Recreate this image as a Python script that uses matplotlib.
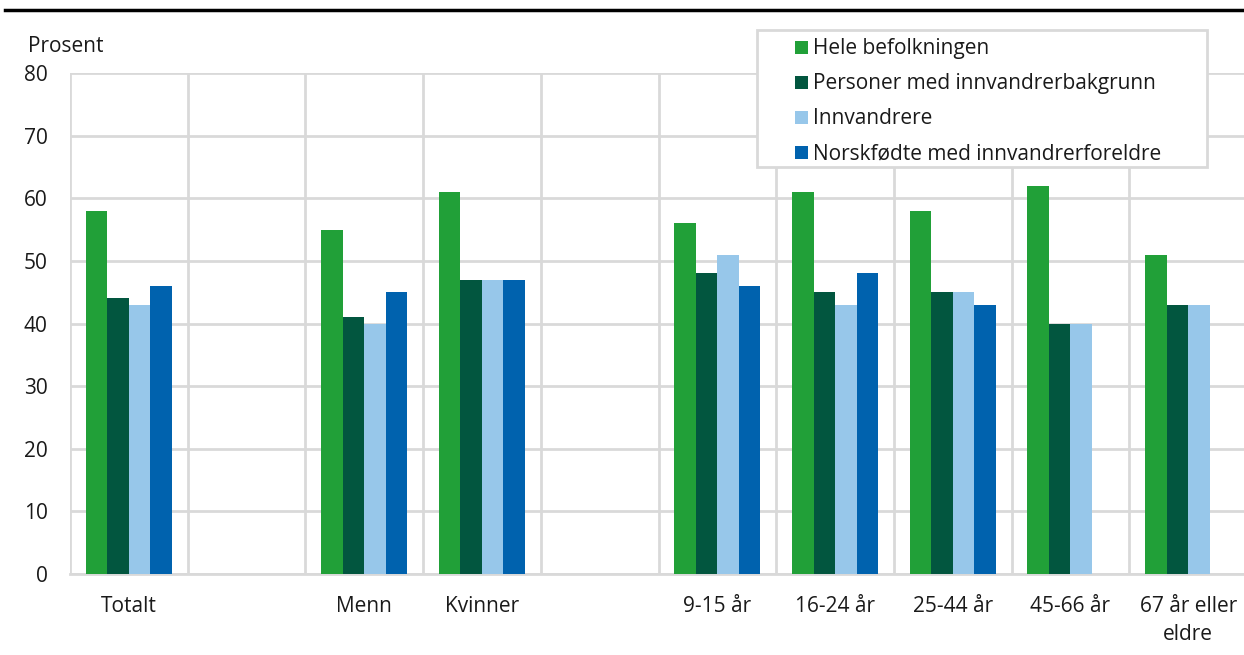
import matplotlib.pyplot as plt
import matplotlib.patches as mpatches
import numpy as np

plt.rcParams['font.family'] = ['Open Sans', 'DejaVu Sans']

categories = ['Totalt', '', 'Menn', 'Kvinner', '', '9-15 år', '16-24 år',
              '25-44 år', '45-66 år', '67 år eller\neldre']
series = ['Hele befolkningen', 'Personer med innvandrerbakgrunn',
          'Innvandrere', 'Norskfødte med innvandrerforeldre']
hele = [58, np.nan, 55, 61, np.nan, 56, 61, 58, 62, 51]
bakgrunn = [44, np.nan, 41, 47, np.nan, 48, 45, 45, 40, 43]
innvandrere = [43, np.nan, 40, 47, np.nan, 51, 43, 45, 40, 43]
norskfodte = [46, np.nan, 45, 47, np.nan, 46, 48, 43, np.nan, np.nan]
colors = ['#21a038', '#02563f', '#97c7ea', '#0062ae']

W, H = 1244, 655
fs = 15
fig = plt.figure(figsize=(W / 100, H / 100), dpi=100)
ax = fig.add_axes([70 / W, 1 - 574 / H, 1177 / W, 501 / H])

x = np.arange(len(categories))
w = 0.183
for i, (vals, col) in enumerate(zip([hele, bakgrunn, innvandrere, norskfodte], colors)):
    ax.bar(x + (i - 1.5) * w, vals, width=w, color=col, zorder=3)

ax.set_xlim(-0.5, len(categories) - 0.5)
ax.set_ylim(0, 80)
ax.set_yticks(range(0, 81, 10))
ax.set_xticks(x)
ax.set_xticklabels(categories, fontsize=fs, linespacing=1.45)
ax.set_xticks(np.arange(-0.5, len(categories)), minor=True)
ax.tick_params(axis='both', which='both', length=0, labelsize=fs, colors='#1a1a1a')
ax.tick_params(axis='x', which='major', pad=15.5)
ax.tick_params(axis='y', pad=16)
ax.grid(axis='y', color='#d9d9d9', linewidth=2, zorder=0)
ax.grid(axis='x', which='minor', color='#d9d9d9', linewidth=2, zorder=0)
ax.grid(axis='x', which='major', visible=False)
for s in ['top', 'right', 'left']:
    ax.spines[s].set_visible(False)
ax.spines['bottom'].set_color('#d9d9d9')
ax.spines['bottom'].set_linewidth(2)

fig.text(28 / W, 1 - 47 / H, 'Prosent', fontsize=fs, va='center', color='#1a1a1a')

# legend box drawn by hand (wide left padding like the original)
fig.add_artist(mpatches.Rectangle((757 / W, 1 - 167 / H), 450 / W, 137 / H,
                                  transform=fig.transFigure, facecolor='white',
                                  edgecolor='#d9d9d9', linewidth=2, zorder=5))
for i, (lab, col) in enumerate(zip(series, colors)):
    yc = 47 + i * 35
    fig.add_artist(mpatches.Rectangle((795 / W, 1 - (yc + 7) / H), 13 / W, 13 / H,
                                      transform=fig.transFigure, facecolor=col,
                                      edgecolor='none', zorder=6))
    fig.text(813 / W, 1 - (yc + 1.5) / H, lab, fontsize=fs, va='center', color='#1a1a1a', zorder=6)

fig.add_artist(plt.Line2D([5 / W, 1], [1 - 10 / H] * 2, color='black', linewidth=2.5))

fig.savefig('out.png', dpi=100)
